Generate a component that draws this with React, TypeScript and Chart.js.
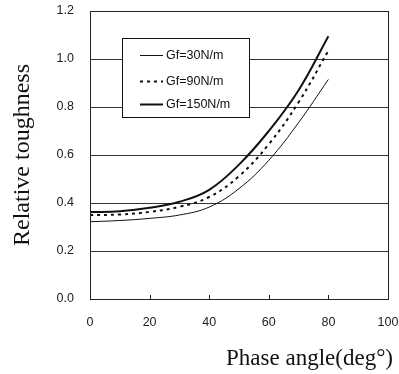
import React, { useEffect, useRef } from "react";
import { Chart, registerables } from "chart.js";

Chart.register(...registerables);

const angles = [0, 10, 20, 30, 40, 50, 60, 70, 80];
const gf30 = [0.322, 0.327, 0.336, 0.35, 0.383, 0.46, 0.578, 0.735, 0.915];
const gf90 = [0.35, 0.352, 0.363, 0.384, 0.425, 0.512, 0.645, 0.82, 1.035];
const gf150 = [0.362, 0.366, 0.38, 0.405, 0.455, 0.56, 0.70, 0.87, 1.095];
const seriesLabels = ["Gf=30N/m", "Gf=90N/m", "Gf=150N/m"];
const xTicks = [0, 20, 40, 60, 80, 100];
const yTitle = "Relative toughness";
const xTitle = "Phase angle(deg\u00b0)";

const SANS = "'Liberation Sans', Arial, sans-serif";
const SERIF = "'Liberation Serif', 'Times New Roman', serif";

export default function App() {
  const ref = useRef<HTMLCanvasElement | null>(null);
  useEffect(() => {
    document.body.style.margin = "0";
    const canvas = ref.current!;
    const toPts = (arr: number[]) => arr.map((v, i) => ({ x: angles[i], y: v }));

    const framePlugin = {
      id: "frameAndLegend",
      afterDraw(chart: any) {
        const { ctx, chartArea: ca, scales } = chart;
        ctx.save();
        ctx.strokeStyle = "#222";
        ctx.lineWidth = 1;
        ctx.strokeRect(Math.round(ca.left) + 0.5, Math.round(ca.top) + 0.5, Math.round(ca.right - ca.left), Math.round(ca.bottom - ca.top));
        for (const t of xTicks) {
          const px = Math.round(scales.x.getPixelForValue(t)) + 0.5;
          ctx.beginPath();
          ctx.moveTo(px, ca.bottom);
          ctx.lineTo(px, ca.bottom - 4);
          ctx.stroke();
        }
        const bx = 122, by = 38, bw = 127, bh = 79;
        ctx.fillStyle = "#fff";
        ctx.fillRect(bx, by, bw, bh);
        ctx.strokeStyle = "#111";
        ctx.strokeRect(bx + 0.5, by + 0.5, bw, bh);
        const rows = [55, 81, 104];
        const widths = [1, 2, 2];
        const dashes = [[], [3, 4], []];
        ctx.font = "12.5px " + SANS;
        ctx.textBaseline = "middle";
        ctx.textAlign = "left";
        rows.forEach((ry, i) => {
          ctx.beginPath();
          ctx.setLineDash(dashes[i]);
          ctx.lineWidth = widths[i];
          ctx.strokeStyle = "#111";
          ctx.moveTo(140, ry + 0.5);
          ctx.lineTo(163, ry + 0.5);
          ctx.stroke();
          ctx.setLineDash([]);
          ctx.fillStyle = "#111";
          ctx.fillText(seriesLabels[i], 166, ry + 1);
        });
        ctx.font = "23px " + SERIF;
        ctx.textAlign = "right";
        ctx.textBaseline = "alphabetic";
        ctx.fillStyle = "#111";
        ctx.fillText(xTitle, 393, 365);
        ctx.restore();
      },
    };

    const common = { borderColor: "#111", pointRadius: 0, tension: 0.4, fill: false };
    const chart = new Chart(canvas, {
      type: "line",
      data: {
        datasets: [
          { label: seriesLabels[0], data: toPts(gf30), borderWidth: 1, ...common },
          { label: seriesLabels[1], data: toPts(gf90), borderWidth: 2, borderDash: [3, 4], ...common },
          { label: seriesLabels[2], data: toPts(gf150), borderWidth: 2, ...common },
        ],
      },
      options: {
        responsive: false,
        animation: false,
        layout: { padding: { top: 11, right: 11, left: 0, bottom: 0 } },
        plugins: { legend: { display: false }, tooltip: { enabled: false } },
        scales: {
          x: {
            type: "linear",
            min: 0,
            max: 100,
            afterBuildTicks: (s: any) => { s.ticks = xTicks.map((v) => ({ value: v })); },
            afterFit: (s: any) => { s.height = 75; s.paddingLeft = 0; s.paddingRight = 0; },
            grid: { display: false, drawTicks: false },
            border: { display: false },
            ticks: { padding: 16, color: "#222", font: { family: SANS, size: 12.5 } },
          },
          y: {
            min: 0,
            max: 1.2,
            afterFit: (s: any) => { s.width = 90; s.paddingTop = 0; s.paddingBottom = 0; },
            grid: { drawTicks: false, color: "#333", lineWidth: 1 },
            border: { display: false },
            ticks: {
              stepSize: 0.2,
              padding: 16,
              color: "#222",
              font: { family: SANS, size: 12.5 },
              callback: (v: any) => Number(v).toFixed(1),
            },
            title: { display: true, text: yTitle, color: "#111", font: { family: SERIF, size: 24 }, padding: { top: 8, bottom: 0 } },
          },
        },
      },
      plugins: [framePlugin],
    } as any);
    return () => chart.destroy();
  }, []);
  return <canvas ref={ref} width={399} height={374} style={{ display: "block", width: 399, height: 374 }} />;
}
